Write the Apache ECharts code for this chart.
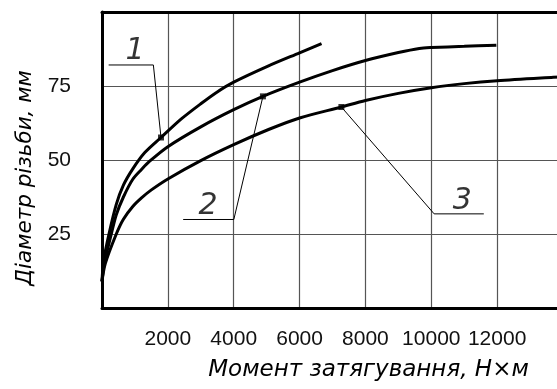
<!DOCTYPE html>
<html>
<head>
<meta charset="utf-8">
<script src="https://cdn.jsdelivr.net/npm/echarts@6/dist/echarts.min.js"></script>
<style>
  html, body { margin: 0; padding: 0; background: #fff; overflow: hidden; }
  /* the plot area runs a little past the right edge of the window */
  #chart { width: 566px; height: 389px; }
</style>
</head>
<body>
<div id="chart"></div>
<script>
// Tightening torque (N·m) against thread diameter (mm), three curves
const torque1 = [0, 50, 212, 434, 650, 935, 1300, 1792, 2400, 3000, 3500, 4000, 5058, 6000, 6667];
const diam1   = [9, 16, 25, 35, 41.5, 47, 52.5, 57.6, 63.8, 69, 73, 76.3, 81.8, 86.2, 89.3];
const torque2 = [0, 70, 283, 434, 650, 935, 1200, 1439, 2000, 3000, 4000, 4887, 6000, 7000, 8000, 9000, 9635, 10000, 11000, 11976];
const diam2   = [9, 15, 25, 31.5, 37.5, 43.5, 46.8, 49.5, 54.5, 61.2, 67, 71.5, 76.3, 80.2, 83.6, 86.3, 87.7, 88, 88.4, 88.8];
const torque3 = [0, 100, 434, 650, 935, 1200, 1500, 2000, 3000, 4000, 5058, 6000, 7270, 8000, 9000, 10000, 11000, 12000, 13707, 14000];
const diam3   = [9, 15, 25, 30, 34.3, 37.2, 39.9, 43.6, 49.8, 55.2, 60.3, 64.2, 67.9, 70.1, 72.5, 74.4, 75.8, 76.8, 77.95, 78.1];

// Points on each curve where the callout leaders end
const markTorque = [1792, 4887, 7270];
const markDiam   = [57.6, 71.5, 67.9];

// Callout numbers and their leader polylines (shelf, then to the curve point)
const calloutText   = ['1', '2', '3'];
const calloutTorque = [1000, 3219, 10940];
const calloutDiam   = [86.8, 34.5, 36.2];
const leader1 = [[202, 82.1], [1560, 82.1], [1792, 57.6]];
const leader2 = [[2465, 29.9], [4003, 29.9], [4887, 71.5]];
const leader3 = [[11595, 31.8], [10087, 31.8], [7270, 67.9]];

// Axis ticks
const xTicks = [2000, 4000, 6000, 8000, 10000, 12000];
const yTicks = [25, 50, 75];

const zip = (xs, ys) => xs.map((x, i) => [x, ys[i]]);

const tickFont = "'Liberation Sans', Arial, sans-serif";
const nameFont = "'DejaVu Sans', sans-serif";

const curveStyle = { color: '#000', width: 3 };
const leaderStyle = { color: '#000', width: 1 };

const chart = echarts.init(document.getElementById('chart'), null, { renderer: 'canvas' });

chart.setOption({
  animation: false,
  backgroundColor: '#fff',
  grid: { left: 102, top: 12, bottom: 81, right: 0 },
  xAxis: [{
    type: 'value', min: 0, max: 14000, interval: 2000,
    axisLine: { show: true, lineStyle: { color: '#000', width: 3 } },
    axisTick: { show: false },
    splitLine: { show: true, lineStyle: { color: '#555', width: 1.2 } },
    axisLabel: {
      margin: 21, fontSize: 21, color: '#111', fontFamily: tickFont,
      formatter: v => xTicks.includes(v) ? String(v) : ''
    },
    name: 'Момент затягування, Н×м',
    nameLocation: 'middle', nameGap: 51,
    nameTextStyle: {
      fontSize: 23, fontStyle: 'italic', fontWeight: 200, color: '#000',
      fontFamily: nameFont, padding: [0, 0, 0, 72]
    }
  }, {
    type: 'value', min: 0, max: 14000, position: 'top',
    axisLine: { show: true, lineStyle: { color: '#000', width: 3 } },
    axisTick: { show: false }, axisLabel: { show: false }, splitLine: { show: false }
  }],
  yAxis: {
    type: 'value', min: 0, max: 100, interval: 25,
    axisLine: { show: true, lineStyle: { color: '#000', width: 3 } },
    axisTick: { show: false },
    splitLine: { show: true, lineStyle: { color: '#555', width: 1.2 } },
    axisLabel: {
      margin: 31, fontSize: 21, color: '#111', fontFamily: tickFont,
      formatter: v => yTicks.includes(v) ? String(v) : ''
    },
    name: 'Діаметр різьби, мм',
    nameLocation: 'middle', nameGap: 63,
    nameTextStyle: {
      fontSize: 21.5, fontStyle: 'italic', fontWeight: 200, color: '#000',
      fontFamily: nameFont, padding: [0, 36, 0, 0]
    }
  },
  series: [
    { type: 'line', data: zip(torque1, diam1), smooth: 0.3, showSymbol: false, lineStyle: curveStyle },
    { type: 'line', data: zip(torque2, diam2), smooth: 0.3, showSymbol: false, lineStyle: curveStyle },
    { type: 'line', data: zip(torque3, diam3), smooth: 0.3, showSymbol: false, lineStyle: curveStyle },
    { type: 'line', data: leader1, showSymbol: false, lineStyle: leaderStyle },
    { type: 'line', data: leader2, showSymbol: false, lineStyle: leaderStyle },
    { type: 'line', data: leader3, showSymbol: false, lineStyle: leaderStyle },
    {
      type: 'scatter', data: zip(markTorque, markDiam),
      symbol: 'rect', symbolSize: 6, itemStyle: { color: '#000' }
    },
    {
      type: 'scatter', symbolSize: 0,
      data: calloutText.map((t, i) => ({ name: t, value: [calloutTorque[i], calloutDiam[i]] })),
      label: {
        show: true, position: 'inside', formatter: p => p.name,
        fontSize: 30, fontStyle: 'italic', fontWeight: 200, color: '#000', fontFamily: nameFont
      }
    }
  ]
});
</script>
</body>
</html>
